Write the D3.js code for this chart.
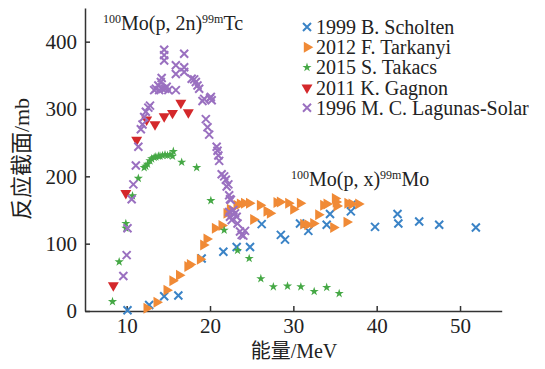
<!DOCTYPE html>
<html>
<head>
<meta charset="utf-8">
<script src="https://cdn.jsdelivr.net/npm/d3@7"></script>
<style>
  body { margin: 0; background: #fff; }
</style>
</head>
<body>
<div id="chart"></div>
<script>
// data: [energy MeV, cross section mb]
var scholten1999 = [[10.1,1],[12.7,9],[14.5,22],[16.2,23],[19.0,78],[21.6,88],[23.2,95],[24.8,95],
  [26.2,129],[28.5,113],[29.0,106],[30.8,130],[31.8,119],[34.0,128],[34.4,144],[36.9,148],[37.0,158],
  [39.8,125],[42.5,144],[42.6,130],[45.1,133],[47.5,128],[51.9,124]];
var tarkanyi2012 = [[12.4,4],[13.6,13],[14.8,31],[15.5,45],[16.3,53],[17.3,66],[17.6,69],[18.8,77],
  [19.2,98],[19.6,107],[20.6,123],[21.4,127],[22.0,145],[22.4,151],[23.2,157],[23.6,159],[24.1,160],
  [24.7,160],[25.2,136],[26.0,157],[26.8,148],[27.2,145],[28.0,161],[28.4,162],[29.4,160],[30.0,151],
  [30.8,160],[31.2,129],[31.7,128],[32.4,130],[33.0,143],[33.6,157],[34.0,159],[34.8,124],[35.0,167],
  [35.1,162],[35.2,156],[36.4,132],[36.5,160],[37.0,159],[37.8,159]];
var takacs2015 = [[8.3,14],[9.1,73],[9.9,130],[9.9,123],[10.7,171],[11.4,197],[12.1,213],[12.3,215],
  [12.5,218],[12.8,223],[13.0,226],[13.3,228],[13.5,229],[13.8,230],[14.0,230],[14.3,231],[14.6,232],
  [14.9,231],[15.2,232],[15.5,230],[15.6,237],[16.6,221],[18.4,213],[20.1,164],[21.7,120],[23.3,90],
  [24.7,78],[26.1,48],[27.6,36],[29.3,37],[30.9,36],[32.5,29],[34.0,35],[35.5,26]];
var gagnon2011 = [[8.4,38],[9.9,175],[11.2,254],[12.4,284],[13.4,277],[14.5,289],[15.5,294],[16.5,309],[17.4,295]];
var lagunas1996 = [[9.6,52],[10.0,83],[10.1,123],[10.6,166],[10.8,188],[11.1,216],[11.4,244],[11.7,270],
  [11.9,277],[12.1,288],[12.3,296],[12.6,302],[12.8,305],[13.3,328],[13.5,330],[13.8,335],[13.9,328],
  [14.1,340],[14.2,346],[14.3,330],[14.5,388],[14.5,380],[14.5,372],[14.6,330],[14.8,333],[15.0,328],
  [15.9,365],[15.9,352],[15.9,328],[16.9,382],[16.9,362],[16.9,355],[17.8,345],[18.1,344],[18.3,340],
  [18.5,335],[18.7,330],[19.1,312],[19.3,315],[20.0,316],[20.1,318],[20.2,313],[19.5,285],[19.7,273],
  [19.9,262],[20.8,244],[20.9,238],[21.0,231],[21.1,223],[21.4,203],[21.7,200],[21.9,195],[22.0,185],
  [22.2,188],[22.3,172],[22.4,166],[22.5,165],[22.3,147],[22.4,140],[22.6,135],[22.8,150],[23.0,145],
  [23.2,140],[23.3,130],[23.6,118],[23.8,113],[24.0,112],[24.2,119]];

var seriesNames = ["1999 B. Scholten", "2012 F. Tarkanyi", "2015 S. Takacs", "2011 K. Gagnon", "1996 M. C. Lagunas-Solar"];
var xTicks = [10, 20, 30, 40, 50];
var yTicks = [0, 100, 200, 300, 400];

var series = [
  {name: seriesNames[0], data: scholten1999, color: "#3a83c6", shape: "x"},
  {name: seriesNames[1], data: tarkanyi2012, color: "#f08a36", shape: "right"},
  {name: seriesNames[2], data: takacs2015, color: "#45a845", shape: "star"},
  {name: seriesNames[3], data: gagnon2011, color: "#d4282b", shape: "down"},
  {name: seriesNames[4], data: lagunas1996, color: "#9a70c0", shape: "x"}
];

var serif = '"Liberation Serif", "DejaVu Serif", serif';
var cjk = '"Liberation Serif", "Noto Sans CJK SC", serif';

var width = 545, height = 369;

var x = d3.scaleLinear().domain([5, 55]).range([85, 501.7]);
var y = d3.scaleLinear().domain([0, 450]).range([311, 8]);

var svg = d3.select("#chart").append("svg")
    .attr("width", width)
    .attr("height", height);

var xAxis = d3.axisBottom(x).tickValues(xTicks).tickSizeInner(-5).tickSizeOuter(0).tickPadding(7);
var yAxis = d3.axisLeft(y).tickValues(yTicks).tickSizeInner(-5).tickSizeOuter(0).tickPadding(8);

svg.append("g")
    .attr("class", "x axis")
    .attr("transform", "translate(0," + y(0) + ")")
    .call(xAxis)
    .call(g => g.selectAll("text").style("font-family", serif).style("font-size", "21px")
      .attr("fill", "#222").attr("dy", "0.72em"));

svg.append("g")
    .attr("class", "y axis")
    .attr("transform", "translate(" + x(5) + ",0)")
    .call(yAxis)
    .call(g => g.selectAll("text").style("font-family", serif).style("font-size", "21px")
      .attr("fill", "#222"));

svg.selectAll(".axis path, .axis line").attr("stroke", "#333").attr("stroke-width", 1.5);

// marker drawing
function addMarker(sel, shape, color) {
  if (shape == "x") {
    sel.append("path").attr("d", "M-4,-4L4,4M4,-4L-4,4")
      .attr("stroke", color).attr("stroke-width", 2).attr("fill", "none");
  } else if (shape == "star") {
    sel.append("path").attr("d", d3.symbol(d3.symbolStar, 26)())
      .attr("fill", color);
  } else {
    let rot = shape == "right" ? 90 : 180;
    sel.append("path").attr("d", d3.symbol(d3.symbolTriangle, 52)())
      .attr("transform", "rotate(" + rot + ")")
      .attr("fill", color);
  }
}

series.forEach(function(s) {
  svg.append("g").selectAll("g")
      .data(s.data)
    .enter().append("g")
      .attr("transform", d => "translate(" + x(d[0]) + "," + y(d[1]) + ")")
      .each(function() { addMarker(d3.select(this), s.shape, s.color); });
});

// legend
var legend = svg.append("g").attr("class", "legend");
series.forEach(function(s, i) {
  let row = legend.append("g").attr("transform", "translate(307," + (27 + i * 20.2) + ")");
  addMarker(row, s.shape, s.color);
  row.append("text")
    .attr("x", 9)
    .attr("dy", "0.35em")
    .attr("fill", "#222")
    .style("font-family", serif)
    .style("font-size", "20px")
    .text(s.name);
});

// reaction labels
function reaction(xp, yp, pre, mid, sup, post) {
  let t = svg.append("text").attr("x", xp).attr("y", yp)
    .attr("fill", "#222").style("font-family", serif).style("font-size", "20px");
  t.append("tspan").style("font-size", "12px").attr("dy", -7).text(pre);
  t.append("tspan").attr("dy", 7).text(mid);
  t.append("tspan").style("font-size", "12px").attr("dy", -7).text(sup);
  t.append("tspan").attr("dy", 7).text(post);
}
reaction(103, 30, "100", "Mo(p, 2n)", "99m", "Tc");
reaction(291, 186, "100", "Mo(p, x)", "99m", "Mo");

// axis titles
svg.append("text")
    .attr("x", 294)
    .attr("y", 358)
    .attr("text-anchor", "middle")
    .attr("fill", "#222")
    .style("font-family", cjk)
    .style("font-size", "20px")
    .text("能量/MeV");

svg.append("text")
    .attr("transform", "translate(29,159) rotate(-90)")
    .attr("text-anchor", "middle")
    .attr("fill", "#222")
    .style("font-family", cjk)
    .style("font-size", "22px")
    .text("反应截面/mb");
</script>
</body>
</html>
